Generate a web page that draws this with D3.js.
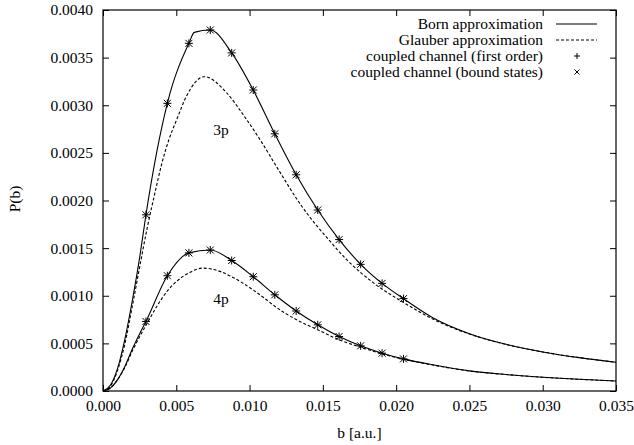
<!DOCTYPE html>
<html><head><meta charset="utf-8">
<script src="https://cdn.jsdelivr.net/npm/d3@7"></script>
<style>body{margin:0;background:#fff}svg{display:block}text{font-family:"Liberation Serif","DejaVu Serif","Times New Roman",serif;fill:#000}</style>
</head><body><svg id="c" width="634" height="445"></svg>
<script>
// ---- data ----
const xTicks = [0, 0.005, 0.010, 0.015, 0.020, 0.025, 0.030, 0.035];
const yTicks = [0, 0.0005, 0.0010, 0.0015, 0.0020, 0.0025, 0.0030, 0.0035, 0.0040];

const born3pB = [0, 0.0005, 0.001, 0.0015, 0.002, 0.0025, 0.00293, 0.00439, 0.00586, 0.00623, 0.00732, 0.00878, 0.01025, 0.01172, 0.01318, 0.01465, 0.01611, 0.01758, 0.01904, 0.0205, 0.0225, 0.025, 0.0275, 0.030, 0.0325, 0.035];
const born3pP = [0, 0.00006, 0.00024, 0.00055, 0.00095, 0.00140, 0.00185, 0.00302, 0.00365, 0.003765, 0.00379, 0.00355, 0.00316, 0.00270, 0.00227, 0.00190, 0.00159, 0.00133, 0.00113, 0.00097, 0.00077, 0.000602, 0.00049, 0.00041, 0.00035, 0.000302];

const glauber3pB = [0, 0.0005, 0.001, 0.0015, 0.002, 0.0025, 0.003, 0.0035, 0.004, 0.0045, 0.00503, 0.00571, 0.00691, 0.00844, 0.00957, 0.01071, 0.0119, 0.01356, 0.0155, 0.01662, 0.0185, 0.0205, 0.0225, 0.025, 0.0275, 0.030, 0.0325, 0.035];
const glauber3pP = [0, 0.00005, 0.00022, 0.00050, 0.00089, 0.00130, 0.00170, 0.00205, 0.00238, 0.00264, 0.00285, 0.00310, 0.00330, 0.00313, 0.00290, 0.00264, 0.00234, 0.00194, 0.00157, 0.00138, 0.00113, 0.00093, 0.000755, 0.000598, 0.000488, 0.00041, 0.00035, 0.000302];

const born4pB = [0, 0.0005, 0.001, 0.0015, 0.002, 0.0025, 0.00293, 0.00439, 0.00586, 0.00732, 0.00878, 0.01025, 0.01172, 0.01318, 0.01465, 0.01611, 0.01758, 0.01904, 0.0205, 0.0225, 0.025, 0.0275, 0.030, 0.0325, 0.035];
const born4pP = [0, 0.00003, 0.00012, 0.00026, 0.00044, 0.00060, 0.00073, 0.00121, 0.00145, 0.00148, 0.00137, 0.00120, 0.00101, 0.00084, 0.000695, 0.000572, 0.000474, 0.000397, 0.000337, 0.000275, 0.000211, 0.000173, 0.000144, 0.000123, 0.000105];

const glauber4pB = [0, 0.0005, 0.001, 0.0015, 0.002, 0.0025, 0.00293, 0.00439, 0.00586, 0.0068, 0.00797, 0.00878, 0.01025, 0.01105, 0.01172, 0.01318, 0.01469, 0.01612, 0.01758, 0.01904, 0.0205, 0.0225, 0.025, 0.0275, 0.030, 0.0325, 0.035];
const glauber4pP = [0, 0.00003, 0.00012, 0.00025, 0.00042, 0.00057, 0.00069, 0.00105, 0.00124, 0.00129, 0.001256, 0.00120, 0.00106, 0.00097, 0.00089, 0.00075, 0.00064, 0.000537, 0.00046, 0.00039, 0.000333, 0.000273, 0.00021, 0.000173, 0.000144, 0.000123, 0.000105];

const cc3pB = [0.00293, 0.00439, 0.00586, 0.00732, 0.00878, 0.01025, 0.01172, 0.01318, 0.01465, 0.01611, 0.01758, 0.01904, 0.0205];
const cc3pP = [0.00185, 0.00302, 0.00365, 0.00379, 0.00355, 0.00316, 0.00270, 0.00227, 0.00190, 0.00159, 0.00133, 0.00113, 0.00097];
const cc4pB = [0.00293, 0.00439, 0.00586, 0.00732, 0.00878, 0.01025, 0.01172, 0.01318, 0.01465, 0.01611, 0.01758, 0.01904, 0.0205];
const cc4pP = [0.00073, 0.00121, 0.00145, 0.00148, 0.00137, 0.00120, 0.00101, 0.00084, 0.000695, 0.000572, 0.000474, 0.000397, 0.000337];

const legendLabels = ["Born approximation", "Glauber approximation", "coupled channel (first order)", "coupled channel (bound states)"];
const curveLabels = ["3p", "4p"];

// ---- layout ----
const L = 103, R = 616, T = 10, B = 391;
const svg = d3.select("#c");
const x = d3.scaleLinear().domain([0, 0.035]).range([L, R]);
const y = d3.scaleLinear().domain([0, 0.004]).range([B, T]);
const fs = 15.5;
const FF = '"Liberation Serif","DejaVu Serif","Times New Roman",serif';

// axes with inward ticks
const tk = 6;
const xAxisB = d3.axisBottom(x).tickValues(xTicks).tickFormat(d3.format(".3f")).tickSizeInner(-tk).tickSizeOuter(0).tickPadding(9);
const xAxisT = d3.axisTop(x).tickValues(xTicks).tickFormat("").tickSizeInner(-tk).tickSizeOuter(0);
const yAxisL = d3.axisLeft(y).tickValues(yTicks).tickFormat(d3.format(".4f")).tickSizeInner(-tk).tickSizeOuter(0).tickPadding(10);
const yAxisR = d3.axisRight(y).tickValues(yTicks).tickFormat("").tickSizeInner(-tk).tickSizeOuter(0);

function styleAxis(g){
  g.attr("font-family", FF);
  g.selectAll(".domain").remove();
  g.selectAll("line").attr("stroke", "#000").attr("stroke-width", 1);
  g.selectAll("text").style("font-family", FF).style("font-size", fs + "px").attr("fill", "#000");
}
svg.append("g").attr("transform", `translate(0,${B})`).call(xAxisB).call(styleAxis);
svg.append("g").attr("transform", `translate(0,${T})`).call(xAxisT).call(styleAxis);
svg.append("g").attr("transform", `translate(${L},0)`).call(yAxisL).call(styleAxis);
svg.append("g").attr("transform", `translate(${R},0)`).call(yAxisR).call(styleAxis);

// frame
svg.append("rect").attr("x", L).attr("y", T).attr("width", R - L).attr("height", B - T)
  .attr("fill", "none").attr("stroke", "#000").attr("stroke-width", 1.2);

// axis titles
svg.append("text").attr("x", (L + R) / 2).attr("y", 438).attr("text-anchor", "middle").style("font-size", fs + "px").text("b [a.u.]");
svg.append("text").attr("transform", "translate(20,199) rotate(-90)").attr("text-anchor", "middle").style("font-size", fs + "px").text("P(b)");

// curves
const line = d3.line().x(d => x(d[0])).y(d => y(d[1])).curve(d3.curveMonotoneX);
const zip = (a, b) => a.map((v, i) => [v, b[i]]);
const plot = svg.append("g");
[[born3pB, born3pP, null], [born4pB, born4pP, null], [glauber3pB, glauber3pP, "3,2"], [glauber4pB, glauber4pP, "3,2"]].forEach(([bx, py, dash]) => {
  plot.append("path").datum(zip(bx, py)).attr("d", line).attr("fill", "none").attr("stroke", "#000")
    .attr("stroke-width", 1.1).attr("stroke-dasharray", dash);
});

// markers
const ps = 3.5;
function plus(g, cx, cy, s){ g.append("path").attr("d", `M${cx - s},${cy}H${cx + s}M${cx},${cy - s}V${cy + s}`).attr("stroke", "#000").attr("stroke-width", 1).attr("fill", "none"); }
function cross(g, cx, cy, s){ g.append("path").attr("d", `M${cx - s},${cy - s}L${cx + s},${cy + s}M${cx - s},${cy + s}L${cx + s},${cy - s}`).attr("stroke", "#000").attr("stroke-width", 1).attr("fill", "none"); }
[zip(cc3pB, cc3pP), zip(cc4pB, cc4pP)].forEach(pts => {
  pts.forEach(d => { plus(plot, x(d[0]), y(d[1]), ps + 0.5); cross(plot, x(d[0]), y(d[1]), ps); });
});

// curve labels
svg.append("text").attr("x", 221).attr("y", 135).attr("text-anchor", "middle").style("font-size", fs + "px").text(curveLabels[0]);
svg.append("text").attr("x", 221).attr("y", 304).attr("text-anchor", "middle").style("font-size", fs + "px").text(curveLabels[1]);

// legend
const lg = svg.append("g");
const rowY = [24, 40, 56, 72];
legendLabels.forEach((t, i) => {
  lg.append("text").attr("x", 543).attr("y", rowY[i] + 5).attr("text-anchor", "end").style("font-size", fs + "px").text(t);
  const cy = rowY[i];
  if (i === 0) lg.append("line").attr("x1", 556).attr("x2", 597).attr("y1", cy).attr("y2", cy).attr("stroke", "#000").attr("stroke-width", 1.1);
  if (i === 1) lg.append("line").attr("x1", 556).attr("x2", 597).attr("y1", cy).attr("y2", cy).attr("stroke", "#000").attr("stroke-width", 1.1).attr("stroke-dasharray", "3,2");
  if (i === 2) plus(lg, 577, cy, 3);
  if (i === 3) cross(lg, 577, cy, 2.5);
});
</script></body></html>
